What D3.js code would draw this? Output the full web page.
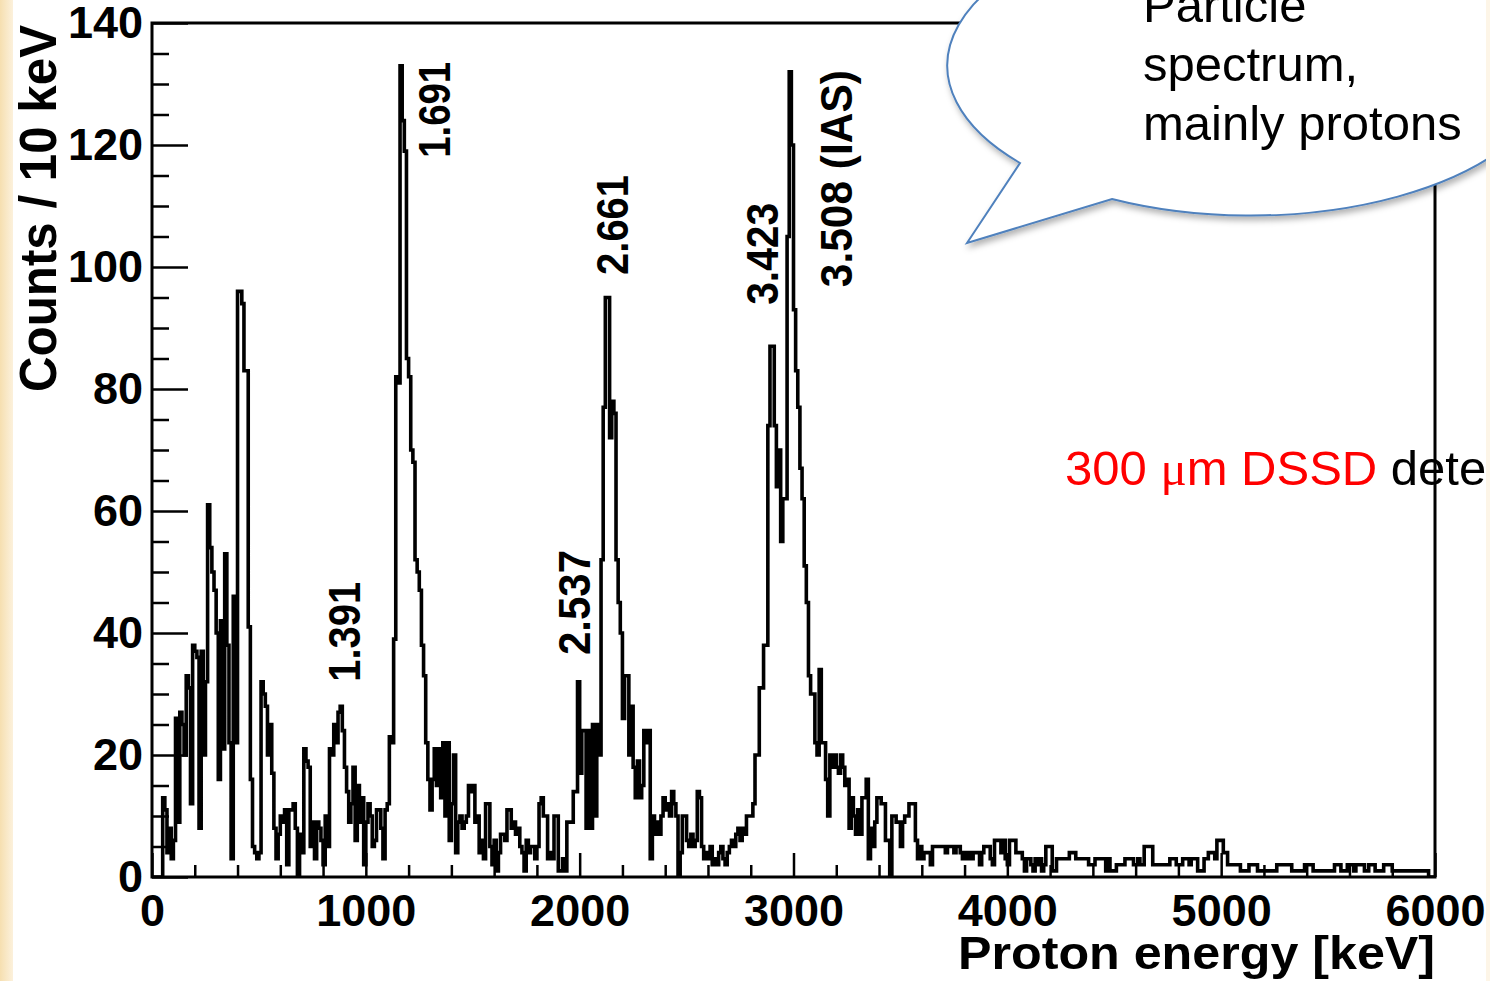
<!DOCTYPE html>
<html>
<head>
<meta charset="utf-8">
<script src="https://cdn.jsdelivr.net/npm/d3@7"></script>
<style>
  html, body { margin: 0; padding: 0; background: #ffffff; }
  svg { display: block; }
</style>
</head>
<body>
<svg id="chart" width="1490" height="981"></svg>
<script>
// ---------------- DATA (counts per 10 keV bin) ----------------
const BIN_WIDTH = 10; // keV
const counts0to1000 = [
  0, 0, 0, 0, 0, 13, 11, 4, 8, 3,
  6, 26, 9, 27, 25, 20, 33, 31, 12, 38,
  37, 36, 8, 37, 20, 32, 61, 54, 50, 47,
  40, 16, 42, 21, 53, 38, 22, 3, 46, 22,
  96, 96, 94, 83, 83, 41, 16, 5, 4, 3,
  4, 32, 30, 28, 20, 25, 17, 8, 3, 7,
  10, 9, 11, 2, 11, 11, 12, 8, 0, 7,
  4, 21, 19, 18, 5, 9, 3, 9, 8, 6,
  2, 10, 5, 21, 20, 25, 22, 27, 28, 24,
  18, 14, 9, 12, 18, 6, 15, 9, 13, 2
];
const counts1000to2000 = [
  9, 12, 10, 5, 6, 11, 11, 8, 3, 11,
  12, 23, 22, 39, 82, 81, 133, 124, 119, 85,
  82, 70, 68, 52, 50, 47, 38, 33, 22, 16,
  11, 16, 21, 15, 21, 13, 22, 10, 22, 6,
  12, 20, 4, 9, 10, 8, 9, 10, 15, 14,
  15, 9, 10, 4, 6, 3, 12, 12, 5, 2,
  6, 1, 4, 7, 7, 6, 11, 11, 8, 9,
  7, 8, 5, 4, 1, 6, 4, 5, 5, 3,
  5, 12, 13, 10, 10, 3, 4, 3, 10, 10,
  1, 1, 3, 1, 9, 9, 9, 14, 14, 32
];
const counts2000to3000 = [
  17, 24, 24, 8, 24, 8, 25, 10, 25, 20,
  52, 77, 95, 95, 72, 78, 76, 52, 45, 40,
  26, 33, 33, 20, 28, 18, 13, 19, 13, 15,
  24, 22, 24, 3, 10, 7, 9, 7, 10, 13,
  11, 12, 10, 14, 12, 10, 0, 4, 10, 10,
  6, 5, 7, 5, 6, 14, 13, 5, 3, 4,
  3, 5, 2, 3, 2, 4, 5, 3, 2, 4,
  5, 6, 5, 7, 8, 6, 8, 7, 10, 10,
  10, 12, 20, 20, 31, 31, 38, 38, 74, 87,
  87, 74, 64, 70, 55, 62, 62, 105, 132, 120
];
const counts3000to4000 = [
  93, 83, 77, 67, 62, 51, 45, 33, 30, 30,
  22, 20, 34, 22, 22, 16, 10, 20, 18, 20,
  18, 17, 20, 18, 15, 16, 8, 13, 10, 7,
  11, 7, 13, 13, 16, 3, 8, 5, 9, 13,
  13, 12, 12, 6, 6, 0, 10, 10, 9, 9,
  5, 9, 10, 10, 12, 12, 12, 6, 3, 5,
  3, 4, 4, 4, 2, 5, 5, 5, 5, 5,
  5, 4, 5, 5, 5, 4, 5, 5, 4, 3,
  4, 3, 4, 3, 4, 4, 4, 2, 4, 5,
  5, 5, 3, 2, 6, 6, 6, 4, 6, 3
];
const counts4000to5000 = [
  2, 6, 6, 6, 4, 4, 4, 3, 1, 3,
  3, 2, 1, 3, 2, 3, 1, 2, 5, 5,
  5, 1, 1, 3, 3, 3, 3, 3, 3, 4,
  4, 4, 3, 3, 3, 3, 3, 3, 2, 2,
  2, 3, 3, 3, 3, 3, 1, 3, 1, 1,
  1, 2, 2, 2, 2, 3, 3, 3, 3, 2,
  2, 3, 2, 2, 5, 5, 5, 5, 2, 2,
  2, 2, 2, 2, 2, 2, 3, 3, 3, 2,
  2, 2, 3, 3, 3, 2, 3, 3, 3, 1,
  1, 1, 3, 3, 4, 4, 4, 3, 6, 6
];
const counts5000to6000 = [
  6, 4, 4, 2, 2, 2, 2, 2, 2, 1,
  1, 1, 1, 2, 2, 2, 2, 1, 1, 1,
  1, 1, 1, 1, 1, 1, 2, 2, 2, 2,
  2, 2, 2, 1, 1, 1, 1, 1, 1, 2,
  2, 2, 2, 1, 1, 1, 1, 1, 1, 1,
  1, 1, 1, 2, 2, 2, 1, 1, 1, 2,
  2, 2, 1, 2, 2, 2, 2, 1, 1, 2,
  2, 2, 1, 1, 1, 1, 2, 2, 2, 2,
  1, 1, 1, 1, 1, 1, 1, 1, 1, 1,
  1, 1, 1, 1, 1, 1, 1, 0, 0, 0
];

const xTickValues = [0, 1000, 2000, 3000, 4000, 5000, 6000];
const yTickValues = [0, 20, 40, 60, 80, 100, 120, 140];

// peak annotations: label, energy (keV) of the label baseline, count at label start
const peakLabels   = ["1.391", "1.691", "2.537", "2.661", "3.423", "3.508 (IAS)"];
const peakLabelE   = [973, 1394, 2048, 2226, 2928, 3274];
const peakLabelC   = [32.0, 117.9, 36.4, 98.7, 93.8, 96.7];
const peakLabelLen = [100, 96, 105, 100, 102, 217];

const xTitle = "Proton energy [keV]";
const yTitle = "Counts / 10 keV";
const bubbleLines = ["Particle", "spectrum,", "mainly protons"];

// ---------------- DRAW ----------------
const counts = [].concat(counts0to1000, counts1000to2000, counts2000to3000,
                         counts3000to4000, counts4000to5000, counts5000to6000);

const svg = d3.select("#chart");
const W = 1490, H = 981;
const plot = { left: 152, right: 1435, top: 23, bottom: 877 };

const x = d3.scaleLinear().domain([0, 6000]).range([plot.left, plot.right]);
const y = d3.scaleLinear().domain([0, 140]).range([plot.bottom, plot.top]);

const defs = svg.append("defs");
defs.append("clipPath").attr("id", "plotClip")
  .append("rect")
  .attr("x", plot.left).attr("y", plot.top)
  .attr("width", plot.right - plot.left).attr("height", plot.bottom - plot.top);

const shadow = defs.append("filter").attr("id", "shadow")
  .attr("x", "-10%").attr("y", "-10%").attr("width", "130%").attr("height", "140%");
shadow.append("feDropShadow").attr("dx", 2).attr("dy", 4)
  .attr("stdDeviation", 3).attr("flood-color", "#000").attr("flood-opacity", 0.3);

const grad = defs.append("linearGradient").attr("id", "creamL")
  .attr("x1", "0").attr("x2", "1").attr("y1", "0").attr("y2", "0");
grad.append("stop").attr("offset", "0%").attr("stop-color", "#f6dfb0");
grad.append("stop").attr("offset", "100%").attr("stop-color", "#fcf1dc");

svg.append("rect").attr("width", W).attr("height", H).attr("fill", "#ffffff");

const FONT = "'Liberation Sans', Arial, Helvetica, sans-serif";

// histogram step line
const pts = counts.map((c, i) => [i * BIN_WIDTH, c]);
pts.push([counts.length * BIN_WIDTH, counts[counts.length - 1]]);
const line = d3.line().x(d => x(d[0])).y(d => y(d[1])).curve(d3.curveStepAfter);
svg.append("path")
  .attr("clip-path", "url(#plotClip)")
  .attr("d", line(pts))
  .attr("fill", "none")
  .attr("stroke", "#000")
  .attr("stroke-width", 3.6)
  .attr("stroke-linejoin", "miter");

// Y axis: major ticks with labels, minor ticks
const yMinor = d3.range(0, 141, 5).filter(v => v % 20 !== 0);
const yAxisMajor = d3.axisLeft(y).tickValues(yTickValues).tickSizeInner(-36).tickSizeOuter(0).tickPadding(9);
const yAxisMinor = d3.axisLeft(y).tickValues(yMinor).tickSizeInner(-17).tickSizeOuter(0).tickFormat("");
const gy = svg.append("g").attr("transform", `translate(${plot.left},0)`).call(yAxisMajor);
const gy2 = svg.append("g").attr("transform", `translate(${plot.left},0)`).call(yAxisMinor);

// X axis
const xMinor = d3.range(0, 6001, 200).filter(v => v % 1000 !== 0);
const xAxisMajor = d3.axisBottom(x).tickValues(xTickValues).tickSizeInner(-24).tickSizeOuter(0).tickPadding(17).tickFormat(d3.format("d"));
const xAxisMinor = d3.axisBottom(x).tickValues(xMinor).tickSizeInner(-12).tickSizeOuter(0).tickFormat("");
const gx = svg.append("g").attr("transform", `translate(0,${plot.bottom})`).call(xAxisMajor);
const gx2 = svg.append("g").attr("transform", `translate(0,${plot.bottom})`).call(xAxisMinor);

[gy, gy2, gx, gx2].forEach(g => {
  g.select(".domain").remove();
  g.selectAll(".tick line").attr("stroke", "#000").attr("stroke-width", 2.5);
  g.selectAll(".tick text").attr("fill", "#000")
    .attr("font-family", FONT).attr("font-weight", "bold").attr("font-size", 45);
});

// frame
svg.append("rect")
  .attr("x", plot.left).attr("y", plot.top)
  .attr("width", plot.right - plot.left).attr("height", plot.bottom - plot.top)
  .attr("fill", "none").attr("stroke", "#000").attr("stroke-width", 3);

// axis titles
svg.append("text")
  .attr("transform", `translate(56,${plot.top + 2}) rotate(-90)`)
  .attr("text-anchor", "end")
  .attr("font-family", FONT).attr("font-weight", "bold").attr("font-size", 52)
  .attr("textLength", 367).attr("lengthAdjust", "spacingAndGlyphs")
  .text(yTitle);

svg.append("text")
  .attr("x", plot.right).attr("y", 969)
  .attr("text-anchor", "end")
  .attr("font-family", FONT).attr("font-weight", "bold").attr("font-size", 47)
  .attr("textLength", 477).attr("lengthAdjust", "spacingAndGlyphs")
  .text(xTitle);

// peak labels
peakLabels.forEach((lab, i) => {
  svg.append("text")
    .attr("transform", `translate(${x(peakLabelE[i])},${y(peakLabelC[i])}) rotate(-90)`)
    .attr("text-anchor", "start")
    .attr("font-family", FONT).attr("font-weight", "bold").attr("font-size", 45)
    .attr("textLength", peakLabelLen[i]).attr("lengthAdjust", "spacingAndGlyphs")
    .text(lab);
});

// detector annotation
const det = svg.append("text")
  .attr("x", 1065).attr("y", 485)
  .attr("font-family", FONT).attr("font-size", 49);
det.append("tspan").attr("fill", "#ff0000").text("300 ");
det.append("tspan").attr("fill", "#ff0000").attr("font-family", "'Liberation Serif', 'DejaVu Serif', serif").text("\u03bc");
det.append("tspan").attr("fill", "#ff0000").text("m DSSD");
det.append("tspan").attr("fill", "#000").text(" dete");

// speech bubble (ellipse with tail)
const bubblePath = "M 967 243 L 1020 163 A 303 150 0 1 1 1112 199 Z";
svg.append("path")
  .attr("d", bubblePath)
  .attr("fill", "#ffffff")
  .attr("stroke", "#4f81bd")
  .attr("stroke-width", 2)
  .attr("filter", "url(#shadow)");

const bt = svg.append("text")
  .attr("font-family", FONT).attr("font-size", 49).attr("fill", "#000");
bubbleLines.forEach((t, i) => {
  bt.append("tspan").attr("x", 1143).attr("y", 22 + i * 59).text(t);
});

// cream slide edges
svg.append("rect").attr("x", 0).attr("y", 0).attr("width", 13).attr("height", H).attr("fill", "url(#creamL)");
svg.append("rect").attr("x", 1486).attr("y", 0).attr("width", 4).attr("height", H).attr("fill", "#fdf5e7");
</script>
</body>
</html>
